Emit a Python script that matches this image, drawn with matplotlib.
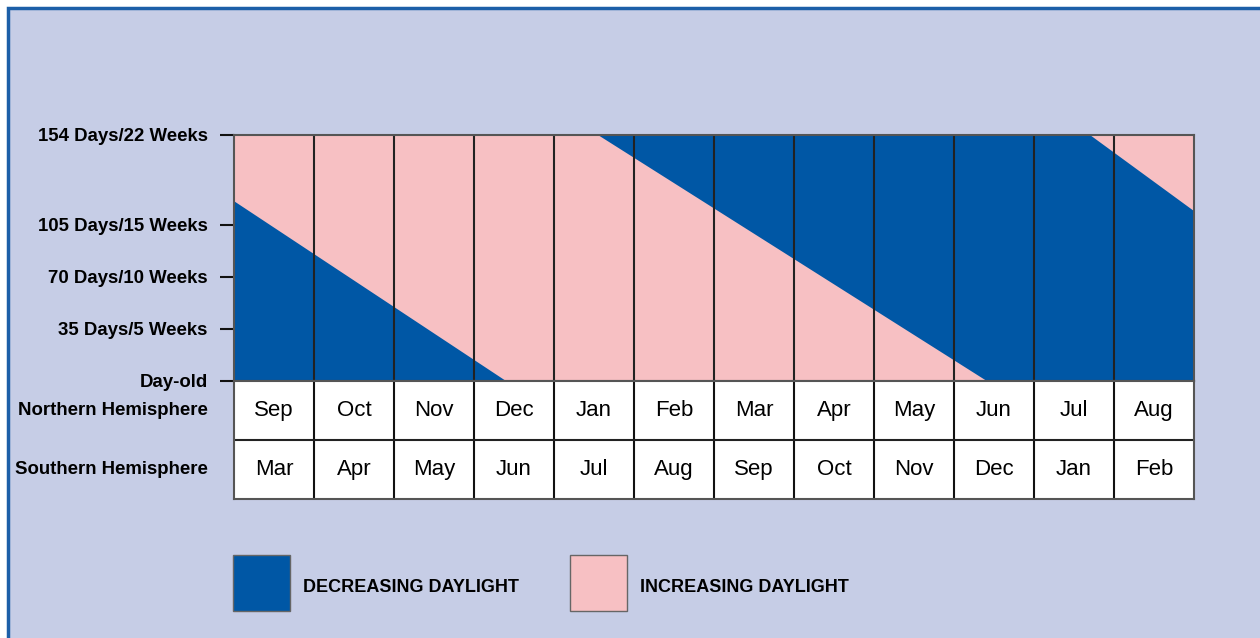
import matplotlib.pyplot as plt
import numpy as np
from matplotlib.patches import Rectangle

plt.rcParams['font.family'] = ['Liberation Sans', 'DejaVu Sans']

months_north = ['Sep', 'Oct', 'Nov', 'Dec', 'Jan', 'Feb', 'Mar', 'Apr', 'May', 'Jun', 'Jul', 'Aug']
months_south = ['Mar', 'Apr', 'May', 'Jun', 'Jul', 'Aug', 'Sep', 'Oct', 'Nov', 'Dec', 'Jan', 'Feb']
age_ticks = [0, 35, 70, 105, 154]
age_labels = ['Day-old', '35 Days/5 Weeks', '70 Days/10 Weeks', '105 Days/15 Weeks', '154 Days/22 Weeks']
tick_pos = [0, 52, 104, 156, 246]  # drawn spacing of the age axis (not linear at the top)

# decreasing-daylight bands: (month index from Sep, age in days)
band1_x = [0, 0, 3.4]
band1_y = [0, 118, 0]
band2_x = [4.55, 9.41, 12, 12, 10.7]
band2_y = [154, 0, 0, 112.6, 154]

blue = '#0057a5'
pink = '#f7c0c3'
lavender = '#c6cde6'
W, H = 1260, 638


def fwd(v):
    return np.interp(v, age_ticks, tick_pos)


def inv(v):
    return np.interp(v, tick_pos, age_ticks)


fig = plt.figure(figsize=(12.6, 6.38), dpi=100, facecolor='white')

# page background with the blue rule on top and left
fig.add_artist(Rectangle((8 / W, -0.1), 1.2, 1 - 8 / H + 0.1, transform=fig.transFigure,
                         facecolor=lavender, edgecolor='#1c5fa8', lw=2.5, zorder=-1))

# main chart
ax = fig.add_axes([234 / W, 1 - 381 / H, 960 / W, 246 / H])
ax.set_yscale('function', functions=(fwd, inv))
ax.set_facecolor(pink)
ax.fill(band1_x, band1_y, color=blue, lw=0)
ax.fill(band2_x, band2_y, color=blue, lw=0)
ax.vlines(range(1, 12), 0, 154, color='#222222', lw=1.5)
ax.set_xlim(0, 12)
ax.set_ylim(0, 154)
ax.set_xticks([])
ax.set_yticks(age_ticks, age_labels, fontweight='bold', fontsize=13.4)
ax.tick_params(axis='y', length=10, width=1.5, pad=9, color='#111111')
for s in ax.spines.values():
    s.set_color('#555555')
    s.set_linewidth(1.5)

# month table
tb = fig.add_axes([234 / W, 1 - 499 / H, 960 / W, 118 / H])
tb.set_facecolor('white')
tb.set_xlim(0, 12)
tb.set_ylim(0, 2)
tb.vlines(range(1, 12), 0, 2, color='#111111', lw=1.5)
tb.axhline(1, color='#222222', lw=1.5)
for i in range(12):
    tb.text(i + 0.5, 1.5, months_north[i], ha='center', va='center', fontsize=16)
    tb.text(i + 0.5, 0.5, months_south[i], ha='center', va='center', fontsize=16)
tb.text(-0.33, 1.5, 'Northern Hemisphere', ha='right', va='center', fontsize=13.4, fontweight='bold')
tb.text(-0.33, 0.5, 'Southern Hemisphere', ha='right', va='center', fontsize=13.4, fontweight='bold')
tb.set_xticks([])
tb.set_yticks([])
for s in tb.spines.values():
    s.set_color('#555555')
    s.set_linewidth(1.5)

# legend
fig.add_artist(Rectangle((233 / W, 1 - 611 / H), 57 / W, 56 / H, transform=fig.transFigure,
                         facecolor=blue, edgecolor='#666666', lw=1))
fig.text(303 / W, 1 - 587 / H, 'DECREASING DAYLIGHT', ha='left', va='center',
         fontsize=13, fontweight='bold')
fig.add_artist(Rectangle((570 / W, 1 - 611 / H), 57 / W, 56 / H, transform=fig.transFigure,
                         facecolor=pink, edgecolor='#666666', lw=1))
fig.text(640 / W, 1 - 587 / H, 'INCREASING DAYLIGHT', ha='left', va='center',
         fontsize=13, fontweight='bold')

fig.savefig('out.png', dpi=100, facecolor='white')
